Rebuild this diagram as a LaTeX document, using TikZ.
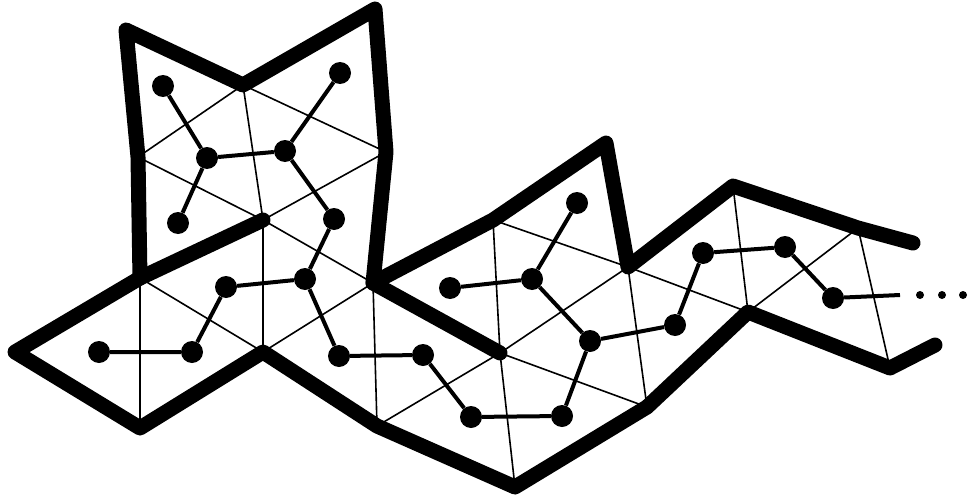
\documentclass[tikz,border=0pt]{standalone}
\begin{document}
\begin{tikzpicture}[x=1pt,y=-1pt,
  bound/.style={line width=15pt, line cap=round, line join=round},
  mesh/.style={line width=1.6pt},
  dual/.style={line width=4pt},
  dot/.style={circle, fill=black, inner sep=0pt, minimum size=22pt},
  smalldot/.style={circle, fill=black, inner sep=0pt, minimum size=8pt}]
\useasboundingbox (0,0) rectangle (969,503);
% mesh vertices
\coordinate (A) at (126,30);
\coordinate (B) at (243,85);
\coordinate (C) at (375,9);
\coordinate (Lm) at (138,157);
\coordinate (Rm) at (386,152);
\coordinate (I) at (263,220);
\coordinate (Lb) at (140,278);
\coordinate (R2) at (373,283);
\coordinate (L0) at (15,352);
\coordinate (Bt1) at (140,428);
\coordinate (M1) at (263,352);
\coordinate (Bt2) at (377,426);
\coordinate (T1) at (493,220);
\coordinate (T2) at (606,143);
\coordinate (N1) at (628,267);
\coordinate (X1) at (500,353);
\coordinate (Bt3) at (515,487);
\coordinate (Bt4) at (647,407);
\coordinate (T3) at (733,186);
\coordinate (N2) at (748,312);
\coordinate (T4) at (858,228);
\coordinate (T5) at (913,243);
\coordinate (Bt5) at (890,368);
\coordinate (Bt6) at (935,345);
% thin mesh edges
\draw[mesh] (B) -- (I) (B) -- (Lm) (B) -- (Rm) (Lm) -- (I) (I) -- (Rm) (I) -- (R2)
  (Lb) -- (Bt1) (Lb) -- (M1) (I) -- (M1) (M1) -- (R2) (R2) -- (Bt2)
  (T1) -- (X1) (X1) -- (Bt3) (T1) -- (N1) (N1) -- (X1) (X1) -- (Bt4) (X1) -- (Bt2)
  (N1) -- (Bt4) (N1) -- (N2) (T3) -- (N2) (N2) -- (T4) (T4) -- (Bt5);
% dual graph nodes
\node[dot] (a1) at (163,86) {};
\node[dot] (a2) at (207,158) {};
\node[dot] (a3) at (285,151) {};
\node[dot] (a4) at (340,73) {};
\node[dot] (a5) at (178,223) {};
\node[dot] (a6) at (334,219) {};
\node[dot] (b1) at (99,352) {};
\node[dot] (b2) at (192,352) {};
\node[dot] (b3) at (226,287) {};
\node[dot] (b4) at (305,279) {};
\node[dot] (b5) at (339,356) {};
\node[dot] (c1) at (450,288) {};
\node[dot] (c2) at (532,279) {};
\node[dot] (c3) at (577,203) {};
\node[dot] (c4) at (590,341) {};
\node[dot] (c5) at (562,416) {};
\node[dot] (c6) at (471,417) {};
\node[dot] (c7) at (423,355) {};
\node[dot] (d1) at (675,325) {};
\node[dot] (d2) at (703,253) {};
\node[dot] (d3) at (785,247) {};
\node[dot] (d4) at (833,298) {};
\coordinate (dend) at (900,295);
\node[smalldot] (e1) at (920,295) {};
\node[smalldot] (e2) at (942,295) {};
\node[smalldot] (e3) at (963,295) {};
% dual graph edges
\draw[dual] (a1) -- (a2) (a2) -- (a5) (a2) -- (a3) (a3) -- (a4) (a3) -- (a6) (a6) -- (b4)
  (b1) -- (b2) (b2) -- (b3) (b3) -- (b4) (b4) -- (b5) (b5) -- (c7)
  (c7) -- (c6) (c6) -- (c5) (c5) -- (c4) (c4) -- (c2) (c2) -- (c1) (c2) -- (c3)
  (c4) -- (d1) (d1) -- (d2) (d2) -- (d3) (d3) -- (d4) (d4) -- (dend);
% thick boundary
\draw[bound] (I) -- (Lb) -- (L0) -- (Bt1) -- (M1) -- (Bt2) -- (Bt3) -- (Bt4) -- (N2) -- (Bt5) -- (Bt6);
\draw[bound] (Lb) -- (Lm) -- (A) -- (B) -- (C) -- (Rm) -- (R2) -- (T1) -- (T2) -- (N1) -- (T3) -- (T4) -- (T5);
\draw[bound] (R2) -- (X1);
\end{tikzpicture}
\end{document}
